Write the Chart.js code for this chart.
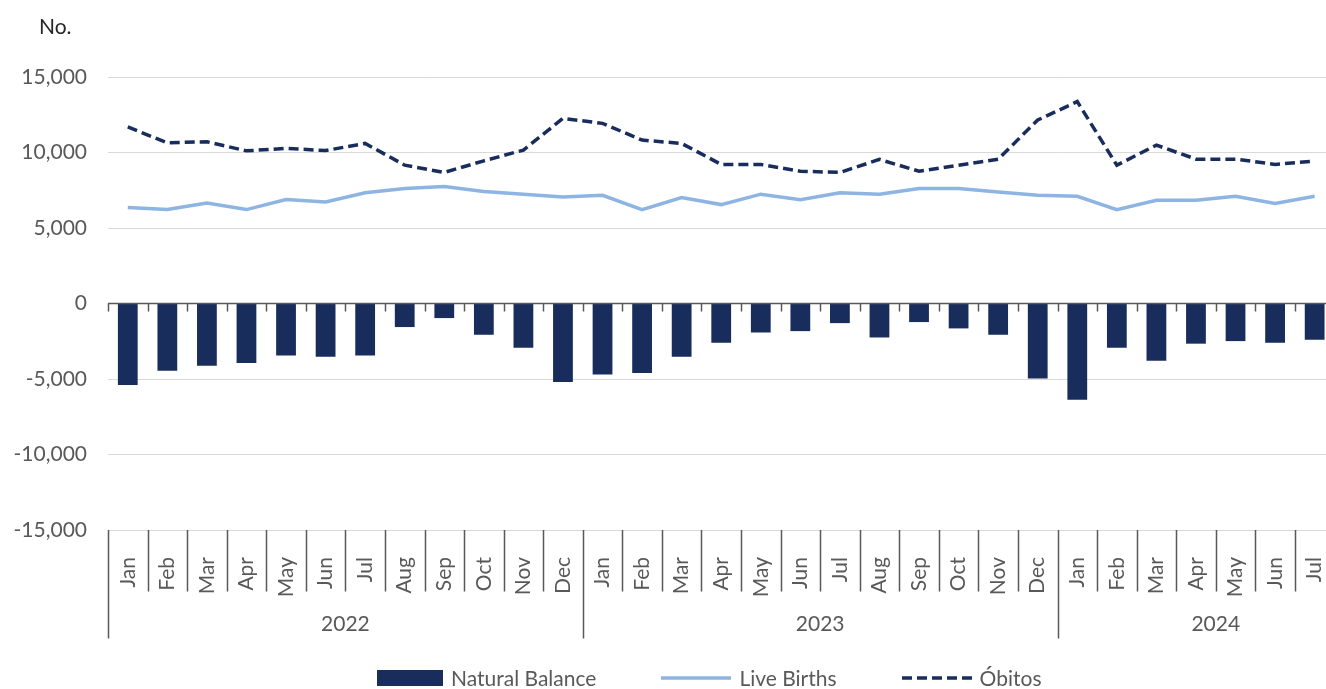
<!DOCTYPE html>
<html>
<head>
<meta charset="utf-8">
<script src="https://cdn.jsdelivr.net/npm/chart.js@4.4.1/dist/chart.umd.min.js"></script>
<style>
  html, body { margin: 0; padding: 0; background: #ffffff; overflow: hidden; width: 1326px; height: 689px; }
  #wrap { position: absolute; left: 0; top: 0; width: 1374px; height: 689px; }
  #unit { position: absolute; left: 39px; top: 13px; font: 21px Lato, sans-serif; color: #262626; }
  #legend { position: absolute; left: 377px; top: 665px; height: 26px; display: flex; align-items: center;
            font: 21px Lato, sans-serif; line-height: 26px; color: #595959; white-space: nowrap; }
  .item { display: flex; align-items: center; margin-right: 65px; }
  .item:last-child { margin-right: 0; }
  .sw { margin-right: 8px; display: block; }
</style>
</head>
<body>
<div id="wrap"><canvas id="c" width="1374" height="689"></canvas></div>
<div id="unit">No.</div>
<div id="legend"></div>
<script>
// ---- data ----
const months = ['Jan','Feb','Mar','Apr','May','Jun','Jul','Aug','Sep','Oct','Nov','Dec',
                'Jan','Feb','Mar','Apr','May','Jun','Jul','Aug','Sep','Oct','Nov','Dec',
                'Jan','Feb','Mar','Apr','May','Jun','Jul'];
const years = ['2022', '2023', '2024'];
const yearStarts = [0, 12, 24];     // index of first month of each year
const axisSlots = 32;               // the axis continues one empty month past the crop

const naturalBalance = [-5390, -4450, -4120, -3940, -3440, -3520, -3440, -1560, -965, -2070, -2930, -5200,
                        -4710, -4600, -3520, -2600, -1920, -1830, -1300, -2250, -1230, -1650, -2070, -4960,
                        -6370, -2930, -3790, -2660, -2490, -2600, -2400];
const liveBirths = [6350, 6220, 6660, 6220, 6880, 6730, 7330, 7610, 7750, 7420, 7230, 7060,
                    7170, 6220, 7020, 6550, 7240, 6880, 7330, 7230, 7610, 7610, 7390, 7170,
                    7100, 6220, 6840, 6840, 7100, 6620, 7100];
const deaths = [11690, 10640, 10710, 10110, 10270, 10130, 10600, 9160, 8680, 9450, 10160, 12260,
                11930, 10820, 10600, 9210, 9210, 8760, 8680, 9540, 8760, 9160, 9560, 12150,
                13370, 9160, 10490, 9560, 9560, 9210, 9430];
const yTicks = { min: -15000, max: 15000, step: 5000 };

const seriesNames = ['Natural Balance', 'Live Births', 'Óbitos'];

// ---- styles ----
const NAVY = '#182D5C';
const LIGHT = '#8DB4E2';
const AXIS = '#595959';
const FONT = 'Lato, sans-serif';

const xLabels = months.concat(Array(axisSlots - months.length).fill(''));

const excelAxis = {
  id: 'excelAxis',
  afterDatasetsDraw(chart) {
    const { ctx, chartArea, scales: { x, y } } = chart;
    const y0 = y.getPixelForValue(0);
    const step = x.getPixelForValue(1) - x.getPixelForValue(0);
    const left = x.getPixelForValue(0) - step / 2;
    const bottom = chartArea.bottom;
    ctx.save();
    ctx.strokeStyle = AXIS;
    ctx.lineWidth = 1.5;
    // horizontal axis line at zero
    ctx.beginPath();
    ctx.moveTo(chartArea.left, y0);
    ctx.lineTo(chartArea.right, y0);
    ctx.stroke();
    // tick marks at category boundaries on the zero line, and month dividers
    ctx.beginPath();
    for (let i = 0; i <= axisSlots; i++) {
      const bx = Math.round(left + i * step) + 0.5;
      ctx.moveTo(bx, y0);
      ctx.lineTo(bx, y0 + 8);
      const isYear = yearStarts.includes(i) || i === axisSlots;
      ctx.moveTo(bx, bottom);
      ctx.lineTo(bx, bottom + (isYear ? 108.5 : 61.5));
    }
    ctx.stroke();
    // year labels
    ctx.fillStyle = AXIS;
    ctx.font = '21px ' + FONT;
    ctx.textAlign = 'center';
    ctx.textBaseline = 'middle';
    years.forEach((yr, k) => {
      const s = yearStarts[k];
      const e = k + 1 < yearStarts.length ? yearStarts[k + 1] : axisSlots;
      const cx = left + (s + e) / 2 * step;
      ctx.fillText(yr, cx, bottom + 94);
    });
    ctx.restore();
  }
};

Chart.defaults.font.family = FONT;
Chart.defaults.font.size = 21;
Chart.defaults.color = AXIS;

const chart = new Chart(document.getElementById('c'), {
  type: 'bar',
  data: {
    labels: xLabels,
    datasets: [
      { type: 'bar', label: seriesNames[0], data: naturalBalance, backgroundColor: NAVY,
        borderWidth: 0, barPercentage: 0.5, categoryPercentage: 1, order: 2 },
      { type: 'line', label: seriesNames[1], data: liveBirths, borderColor: LIGHT, backgroundColor: LIGHT,
        borderWidth: 3.5, pointRadius: 0, tension: 0, fill: false, order: 1 },
      { type: 'line', label: seriesNames[2], data: deaths, borderColor: NAVY, backgroundColor: NAVY,
        borderWidth: 3.5, borderDash: [10, 5], pointRadius: 0, tension: 0, fill: false, order: 0 }
    ]
  },
  options: {
    responsive: false,
    animation: false,
    layout: { padding: { top: 77, bottom: 50.5, left: 0, right: 0 } },
    plugins: { legend: { display: false }, tooltip: { enabled: false } },
    scales: {
      x: {
        grid: { display: false },
        border: { display: false },
        ticks: { autoSkip: false, minRotation: 90, maxRotation: 90, padding: 19, color: AXIS },
        afterFit(s) { s.height = 108.5; s.paddingLeft = 0; s.paddingRight = 0; }
      },
      y: {
        min: yTicks.min, max: yTicks.max,
        ticks: { stepSize: yTicks.step, padding: 21, color: AXIS,
                 callback: v => Number(v).toLocaleString('en-US') },
        grid: { drawTicks: false, lineWidth: 1,
                color: c => (c.tick && c.tick.value === 0) ? 'rgba(0,0,0,0)' : '#D9D9D9' },
        border: { display: false },
        afterFit(s) { s.width = 108; }
      }
    }
  },
  plugins: [excelAxis]
});

// HTML legend built from the datasets
const legend = document.getElementById('legend');
chart.data.datasets.forEach(ds => {
  const item = document.createElement('div');
  item.className = 'item';
  const sw = document.createElement('canvas');
  sw.className = 'sw';
  const w = ds.type === 'bar' ? 66 : 70;
  sw.width = w; sw.height = 16;
  const g = sw.getContext('2d');
  if (ds.type === 'bar') {
    g.fillStyle = ds.backgroundColor;
    g.fillRect(0, 0, w, 16);
  } else {
    g.strokeStyle = ds.borderColor;
    g.lineWidth = ds.borderWidth;
    g.setLineDash(ds.borderDash || []);
    g.beginPath(); g.moveTo(0, 8); g.lineTo(w, 8); g.stroke();
  }
  const t = document.createElement('span');
  t.textContent = ds.label;
  item.appendChild(sw);
  item.appendChild(t);
  legend.appendChild(item);
});
</script>
</body>
</html>
